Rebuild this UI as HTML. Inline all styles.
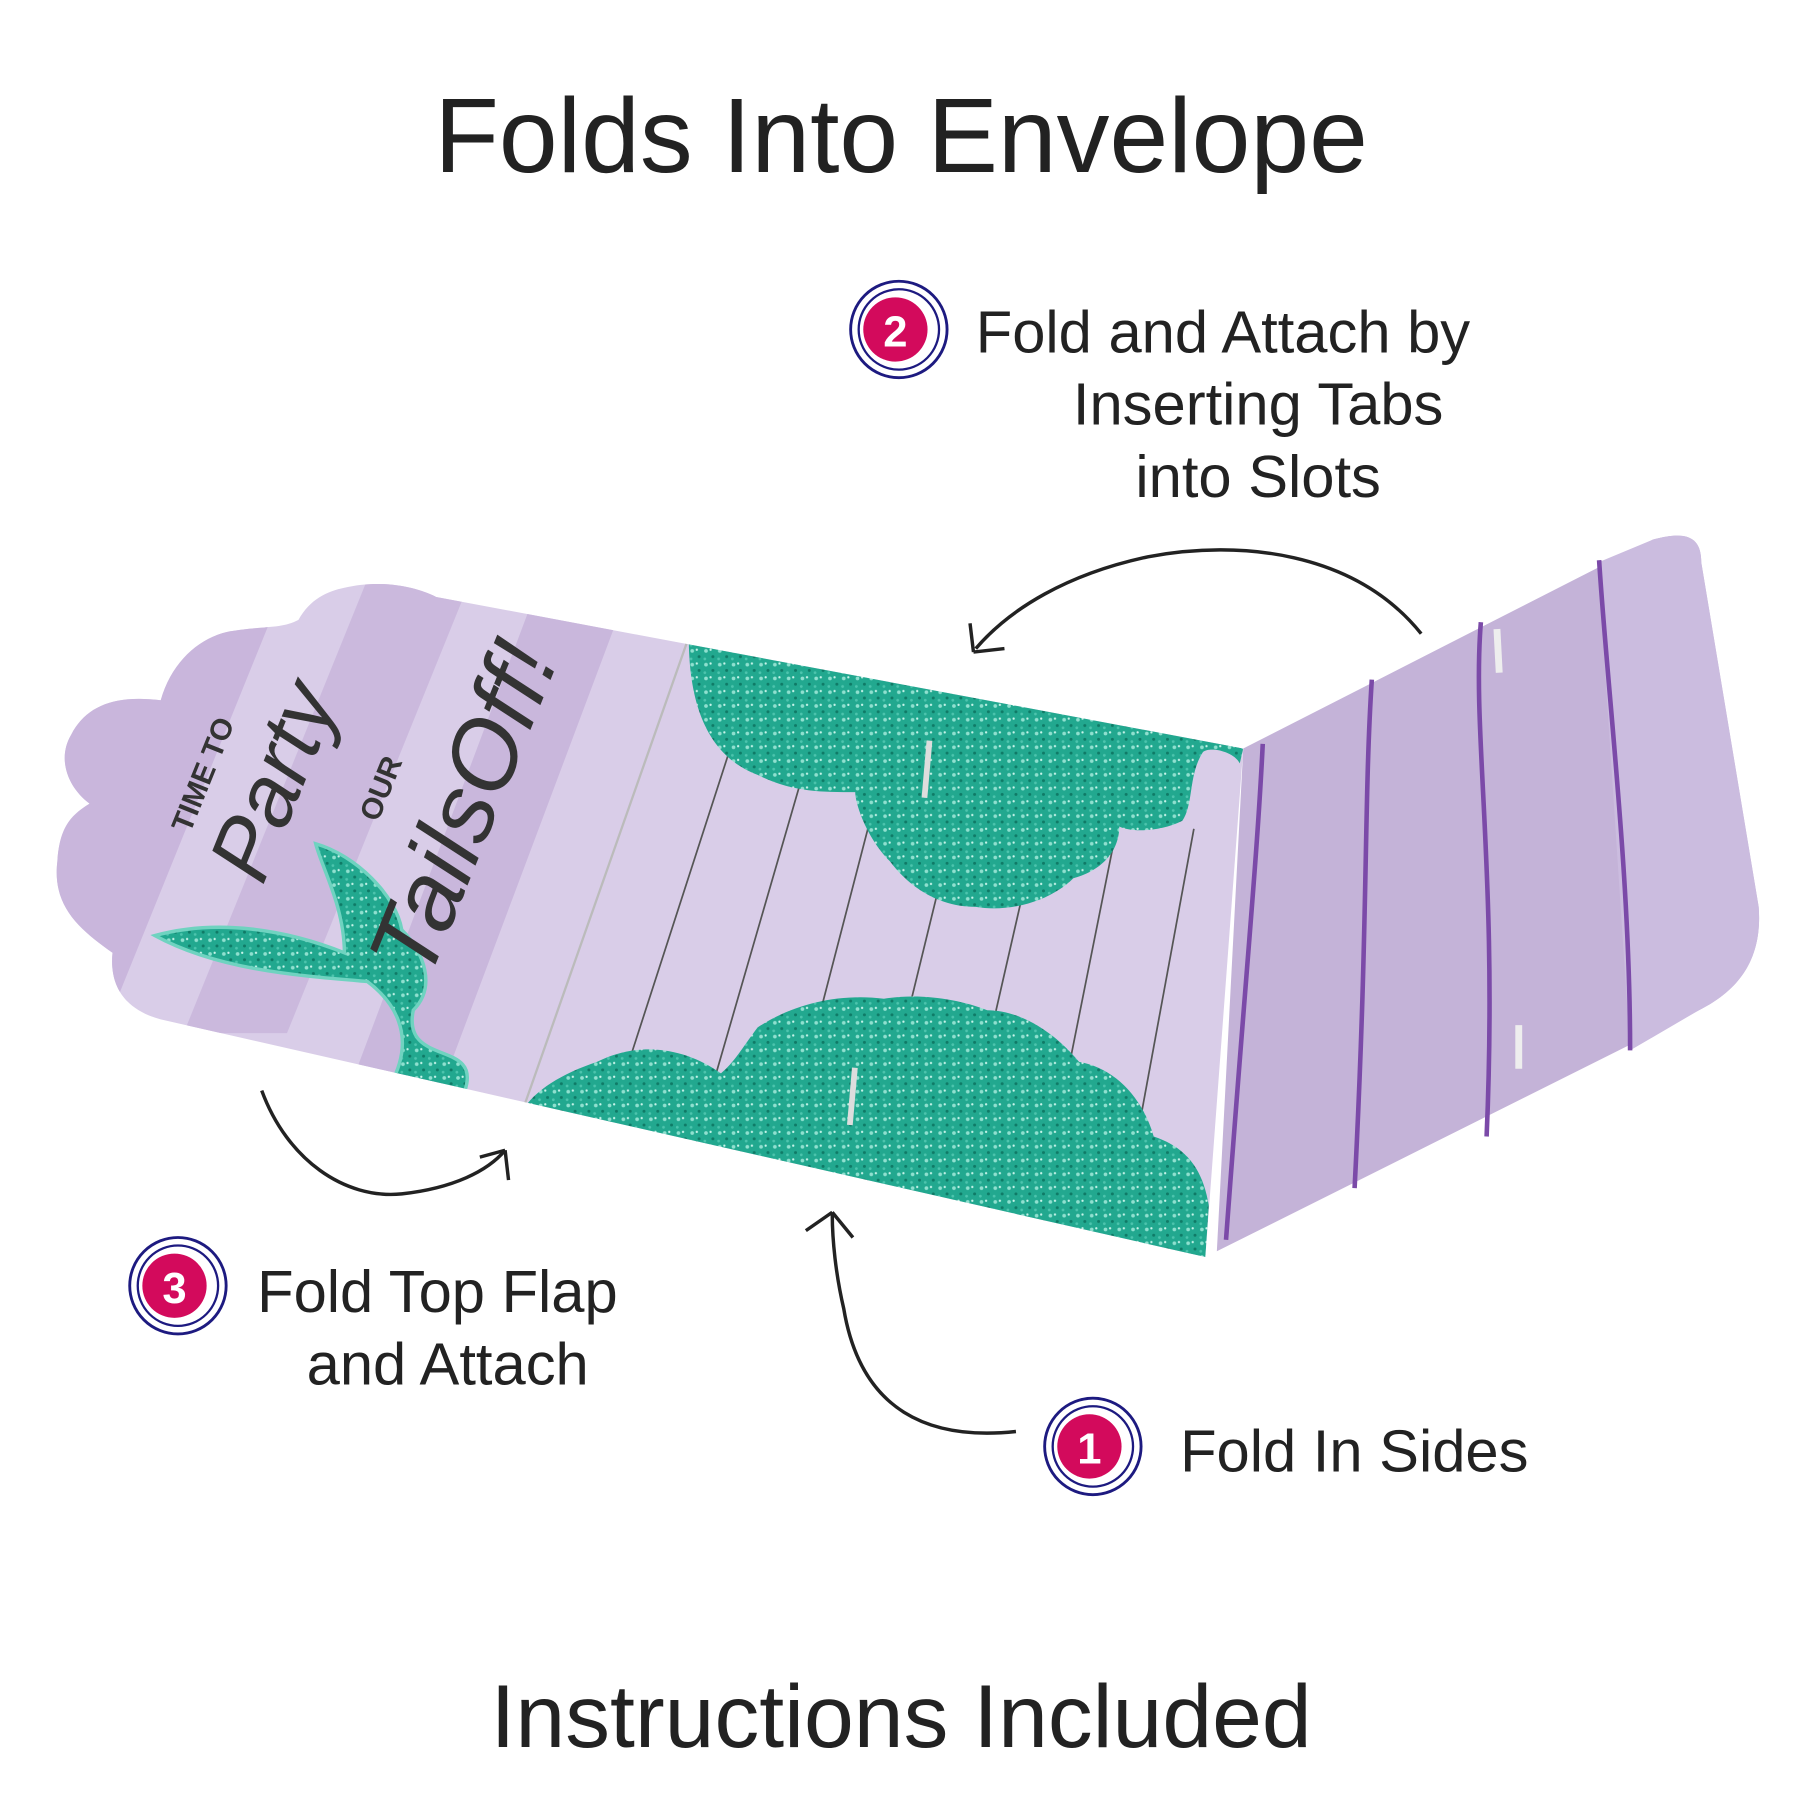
<!DOCTYPE html>
<html><head><meta charset="utf-8"><style>
html,body{margin:0;padding:0;background:#fff;width:1800px;height:1800px;overflow:hidden}
svg{display:block}
text{font-family:"Liberation Sans",sans-serif}
</style></head><body>
<svg width="1800" height="1800" viewBox="0 0 1568 1568" xmlns="http://www.w3.org/2000/svg">
<defs>
<clipPath id="leftclip">
<path d="M300,512 C330,505 360,510 380,520 L1083,652 L1050,1095 L140,888 C110,880 95,860 98,830 C70,810 45,790 50,750 C52,720 62,710 78,700 C58,685 50,660 62,640 C75,615 100,605 140,610 C150,575 175,555 200,550 C230,545 245,548 260,540 C270,522 285,515 300,512 Z"/>
</clipPath>
<pattern id="glit" width="12" height="12" patternUnits="userSpaceOnUse">
<rect width="12" height="12" fill="#22a88f"/>
<circle cx="3" cy="3" r="1.6" fill="#8fe0cf"/><circle cx="9" cy="8" r="1.3" fill="#0f7a66"/><circle cx="7" cy="2" r="1" fill="#c8f4ea"/><circle cx="2" cy="10" r="1.2" fill="#4cc4ad"/>
</pattern>
</defs>

<text x="785" y="150" font-size="92" text-anchor="middle" fill="#222">Folds Into Envelope</text>
<text x="785" y="1522" font-size="78" text-anchor="middle" fill="#222">Instructions Included</text>

<!-- Right panel -->
<path d="M1083,652 L1440,470 C1470,462 1482,468 1482,490 L1532,790 C1535,830 1520,860 1480,880 L1060,1090 Z" fill="#c4b3d8"/>
<path d="M1392,490 L1440,470 C1470,462 1482,468 1482,490 L1532,790 C1535,830 1520,860 1480,880 L1420,915 Z" fill="#cbbcdf"/>
<g fill="none" stroke="#7b4aa8" stroke-width="4">
<path d="M1100,648 C1095,750 1085,850 1068,1080"/>
<path d="M1195,592 C1188,700 1192,800 1180,1035"/>
<path d="M1290,542 C1282,640 1305,760 1295,990"/>
<path d="M1393,488 C1400,600 1420,760 1420,915"/>
</g>
<rect x="1302" y="548" width="6" height="38" fill="#eee" transform="rotate(-3 1305 567)"/>
<rect x="1320" y="893" width="6" height="38" fill="#eee"/>

<!-- Left piece -->
<g clip-path="url(#leftclip)">
<rect x="0" y="480" width="1100" height="640" fill="#d9cde8"/>
<path d="M0,480 L260,480 L90,900 L0,900 Z" fill="#c9b6dc"/>
<path d="M330,480 L420,480 L250,900 L160,900 Z" fill="#cbb9dd"/>
<path d="M480,480 L560,480 L380,960 L300,960 Z" fill="#c9b7dc"/>
<path d="M600,555 L455,968" stroke="#bbb" stroke-width="2"/>
<g stroke="#555" stroke-width="1.5">
<line x1="640" y1="640" x2="530" y2="980"/>
<line x1="705" y1="655" x2="605" y2="1000"/>
<line x1="770" y1="668" x2="680" y2="1015"/>
<line x1="840" y1="682" x2="755" y2="1030"/>
<line x1="910" y1="695" x2="830" y2="1045"/>
<line x1="975" y1="710" x2="905" y2="1060"/>
<line x1="1040" y1="722" x2="975" y2="1075"/>
</g>
<path d="M600,555 L1083,652 L1080,665 C1075,655 1055,650 1048,655 C1035,675 1040,700 1030,715 C1010,725 985,725 975,720 C975,745 955,760 935,765 C915,785 880,795 850,790 C815,790 790,770 775,750 C755,730 745,700 745,690 C715,690 690,690 660,675 C620,660 600,620 600,555 Z" fill="url(#glit)"/>
<path d="M455,968 L1050,1095 L1053,1050 C1048,1020 1035,1000 1005,990 C995,955 970,930 940,925 C915,895 885,880 860,880 C835,870 800,865 770,870 C730,865 690,875 660,895 C645,915 640,925 628,935 C600,915 560,905 520,925 C490,935 465,950 455,968 Z" fill="url(#glit)"/>
<rect x="805" y="645" width="5" height="50" fill="#ddd" transform="rotate(5 807 670)"/>
<rect x="740" y="930" width="5" height="50" fill="#ddd" transform="rotate(5 742 955)"/>
<!-- mermaid tail -->
<path d="M135,815 C190,800 250,810 300,830 C300,790 280,755 275,735 C310,745 345,780 350,810 C370,830 380,860 360,880 C350,930 420,905 405,950 L340,945 C365,900 340,870 320,855 C260,850 190,845 135,815 Z" fill="url(#glit)" stroke="#6fd3c0" stroke-width="3"/>
</g>

<!-- rotated text -->
<g fill="#333" text-anchor="middle">
<text transform="translate(185,678) rotate(-68)" font-size="26" font-weight="bold">TIME TO</text>
<text transform="translate(262,690) rotate(-68)" font-size="76" font-style="italic" font-family="Liberation Serif, serif">Party</text>
<text transform="translate(340,690) rotate(-68)" font-size="26" font-weight="bold">OUR</text>
<text transform="translate(430,715) rotate(-68)" font-size="84" font-style="italic" font-family="Liberation Serif, serif">TailsOff!</text>
</g>

<!-- arrows -->
<g fill="none" stroke="#222" stroke-width="3">
<path d="M1238,552 C1180,480 1080,470 1000,485 C930,500 880,530 850,565"/>
<path d="M848,568 L845,543 M848,568 L875,565" />
<path d="M228,950 C250,1010 300,1045 350,1040 C395,1035 425,1020 440,1002"/>
<path d="M440,1002 L418,1008 M440,1002 L443,1028"/>
<path d="M885,1247 C810,1255 750,1230 735,1140 C728,1110 725,1080 725,1058"/>
<path d="M725,1056 L702,1072 M725,1056 L743,1078"/>
</g>

<!-- badges -->
<g>
<circle cx="783" cy="287" r="42" fill="none" stroke="#1d1a80" stroke-width="2.5"/>
<circle cx="783" cy="287" r="35" fill="none" stroke="#1d1a80" stroke-width="2"/>
<circle cx="780" cy="287" r="28" fill="#d30a5c"/>
<text x="780" y="302" font-size="38" font-weight="bold" fill="#fff" text-anchor="middle">2</text>
<circle cx="155" cy="1120" r="42" fill="none" stroke="#1d1a80" stroke-width="2.5"/>
<circle cx="155" cy="1120" r="35" fill="none" stroke="#1d1a80" stroke-width="2"/>
<circle cx="152" cy="1120" r="28" fill="#d30a5c"/>
<text x="152" y="1135" font-size="38" font-weight="bold" fill="#fff" text-anchor="middle">3</text>
<circle cx="952" cy="1260" r="42" fill="none" stroke="#1d1a80" stroke-width="2.5"/>
<circle cx="952" cy="1260" r="35" fill="none" stroke="#1d1a80" stroke-width="2"/>
<circle cx="949" cy="1260" r="28" fill="#d30a5c"/>
<text x="949" y="1275" font-size="38" font-weight="bold" fill="#fff" text-anchor="middle">1</text>
</g>

<g fill="#222" font-size="52">
<text x="850" y="307">Fold and Attach by</text>
<text x="1096" y="370" text-anchor="middle">Inserting Tabs</text>
<text x="1096" y="433" text-anchor="middle">into Slots</text>
<text x="224" y="1143">Fold Top Flap</text>
<text x="390" y="1206" text-anchor="middle">and Attach</text>
<text x="1028" y="1282">Fold In Sides</text>
</g>
</svg>
</body></html>
